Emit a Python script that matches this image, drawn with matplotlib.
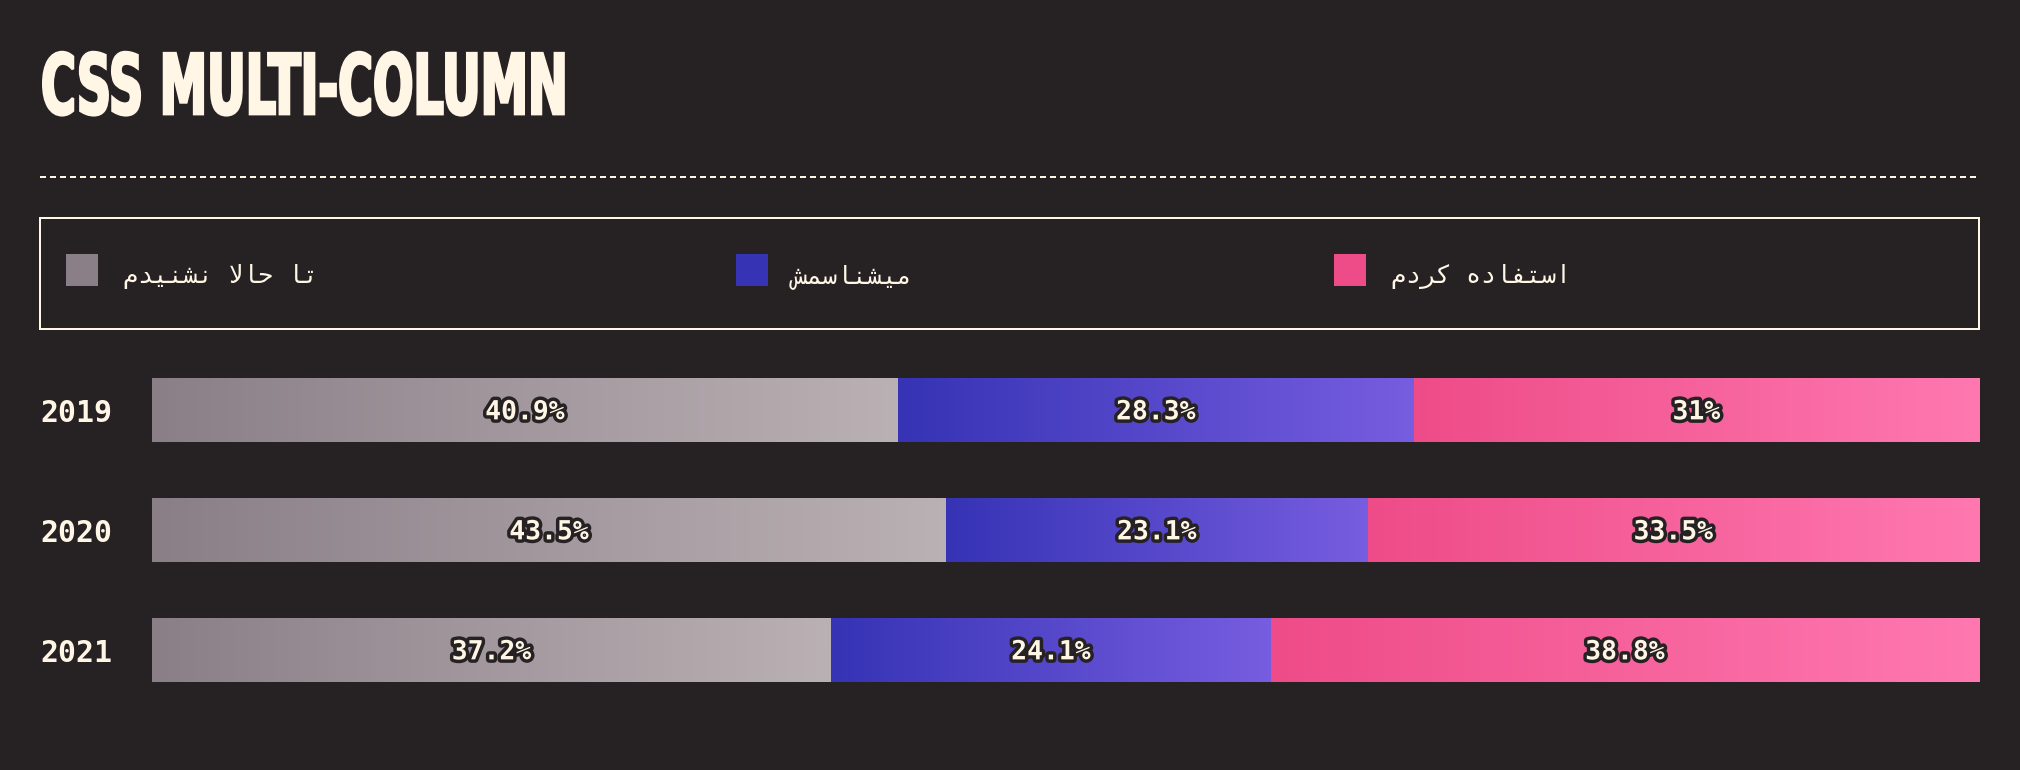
import numpy as np
import matplotlib
matplotlib.use("Agg")
import matplotlib.pyplot as plt
from matplotlib.patches import Rectangle
from matplotlib.colors import LinearSegmentedColormap
from matplotlib.transforms import Affine2D
from matplotlib import patheffects as pe

# ---------------- data ----------------
TITLE = "CSS MULTI-COLUMN"
years = ["2019", "2020", "2021"]
series_names = ["تا حالا نشنیدم", "میشناسمش", "استفاده کردم"]
never_heard = [40.9, 43.5, 37.2]
know_it = [28.3, 23.1, 24.1]
used_it = [31, 33.5, 38.8]

# ---------------- style ----------------
BG = "#262223"
CREAM = "#FFF6E6"
grad_start = ["#8A7F87", "#3633B5", "#EE4C88"]
grad_end = ["#BAB1B4", "#775DE0", "#FF78B0"]

W, H = 2020, 770
plt.rcParams["lines.scale_dashes"] = False
PX = 72.0 / 100.0  # points per pixel at dpi 100

# ---------- minimal Arabic/Persian shaping (presentation forms) ----------
FORMS = {
    "\u0627": ("\uFE8D", "\uFE8E", None, None),
    "\u062A": ("\uFE95", "\uFE96", "\uFE97", "\uFE98"),
    "\u062D": ("\uFEA1", "\uFEA2", "\uFEA3", "\uFEA4"),
    "\u0644": ("\uFEDD", "\uFEDE", "\uFEDF", "\uFEE0"),
    "\u0646": ("\uFEE5", "\uFEE6", "\uFEE7", "\uFEE8"),
    "\u0634": ("\uFEB5", "\uFEB6", "\uFEB7", "\uFEB8"),
    "\u06CC": ("\uFBFC", "\uFBFD", "\uFBFE", "\uFBFF"),
    "\u062F": ("\uFEA9", "\uFEAA", None, None),
    "\u0645": ("\uFEE1", "\uFEE2", "\uFEE3", "\uFEE4"),
    "\u0633": ("\uFEB1", "\uFEB2", "\uFEB3", "\uFEB4"),
    "\u0647": ("\uFEE9", "\uFEEA", "\uFEEB", "\uFEEC"),
    "\u0641": ("\uFED1", "\uFED2", "\uFED3", "\uFED4"),
    "\u06A9": ("\uFB8E", "\uFB8F", "\uFB90", "\uFB91"),
    "\u0631": ("\uFEAD", "\uFEAE", None, None),
    "LA": ("\uFEFB", "\uFEFC", None, None),
}


def shape_rtl(s):
    toks = []
    i = 0
    while i < len(s):
        if s[i] == "\u0644" and i + 1 < len(s) and s[i + 1] == "\u0627":
            toks.append("LA")
            i += 2
        else:
            toks.append(s[i])
            i += 1

    def jt(t):
        if t not in FORMS:
            return "none"
        return "dual" if FORMS[t][2] is not None else "right"

    out = []
    for k, t in enumerate(toks):
        if jt(t) == "none":
            out.append(t)
            continue
        prev_c = k > 0 and jt(toks[k - 1]) == "dual"
        next_c = jt(t) == "dual" and k + 1 < len(toks) and jt(toks[k + 1]) != "none"
        f = FORMS[t]
        if prev_c and next_c:
            out.append(f[3])
        elif prev_c:
            out.append(f[1])
        elif next_c:
            out.append(f[2])
        else:
            out.append(f[0])
    return "".join(reversed(out))


class HScale(pe.AbstractPathEffect):
    """Horizontally condense a text's glyphs about a display x anchor (and embolden slightly)."""

    def __init__(self, sx, x0, lw=0.0):
        super().__init__()
        self.sx = sx
        self.x0 = x0
        self.lw = lw

    def draw_path(self, renderer, gc, tpath, affine, rgbFace=None):
        t = affine + Affine2D().translate(-self.x0, 0).scale(self.sx, 1).translate(self.x0, 0)
        gc0 = renderer.new_gc()
        gc0.copy_properties(gc)
        if self.lw > 0 and rgbFace is not None:
            gc0.set_linewidth(self.lw)
            gc0.set_foreground(rgbFace)
            gc0.set_joinstyle("miter")
        renderer.draw_path(gc0, tpath, t, rgbFace)
        gc0.restore()


# ---------------- figure ----------------
fig = plt.figure(figsize=(W / 100, H / 100), dpi=100, facecolor=BG)
ax = fig.add_axes([0, 0, 1, 1])
ax.set_xlim(0, W)
ax.set_ylim(H, 0)
ax.axis("off")
ax.set_facecolor(BG)

# title
title = ax.text(41, 114, TITLE, fontsize=60, fontweight="bold", family="DejaVu Sans",
                color=CREAM, ha="left", va="baseline")

# dashed separator
ax.plot([40, 1979], [177, 177], color=CREAM, lw=2 * PX, dashes=(6 * PX, 4 * PX),
        solid_capstyle="butt", dash_capstyle="butt")

# legend box
ax.add_patch(Rectangle((40, 218), 1939, 111, fill=False, edgecolor=CREAM, lw=2 * PX))
swatch_x = [66, 736, 1334]
for k, name in enumerate(series_names):
    ax.add_patch(Rectangle((swatch_x[k], 254), 32, 32, facecolor=grad_start[k], edgecolor="none"))
    ax.text(swatch_x[k] + 57, 283, shape_rtl(name), fontsize=18,
            family=["DejaVu Sans Mono", "DejaVu Sans"], color=CREAM, ha="left", va="baseline")

# ---------------- bars ----------------
axb = fig.add_axes([152 / W, (H - 710) / H, (1979 - 152) / W, 360 / H])
axb.set_facecolor("none")
series = [never_heard, know_it, used_it]
totals = np.sum(np.array(series, dtype=float), axis=0)
ypos = np.arange(len(years))
bar_h = 64 / 120
lefts = np.zeros(len(years))
for k, vals in enumerate(series):
    vals = np.asarray(vals, dtype=float)
    widths = vals / totals * 100
    bars = axb.barh(ypos, widths, left=lefts, height=bar_h, color=grad_start[k], linewidth=0, zorder=1)
    cmap = LinearSegmentedColormap.from_list(f"g{k}", [grad_start[k], grad_end[k]])
    for b in bars:
        x0, y0 = b.get_x(), b.get_y()
        im = axb.imshow(np.linspace(0, 1, 256).reshape(1, -1), cmap=cmap, aspect="auto",
                        extent=(x0, x0 + b.get_width(), y0 + b.get_height(), y0),
                        interpolation="bilinear", zorder=2)
        im.set_clip_path(b)
    for i, (l, w, v) in enumerate(zip(lefts, widths, vals)):
        axb.text(l + w / 2, i + 0.078, f"{v:g}%", fontsize=19, fontweight="bold",
                 family="DejaVu Sans Mono", color=CREAM, ha="center", va="baseline", zorder=5,
                 path_effects=[pe.Stroke(linewidth=5, foreground=BG), pe.Normal()])
    lefts = lefts + widths

axb.set_xlim(0, 100)
axb.set_ylim(2.5, -0.5)
axb.set_xticks([])
axb.set_yticks(ypos, years)
axb.tick_params(axis="y", length=0, pad=112 * PX, labelsize=21.5, labelcolor=CREAM)
for lab in axb.get_yticklabels():
    lab.set_ha("left")
    lab.set_fontfamily("DejaVu Sans Mono")
    lab.set_fontweight("bold")
for s in axb.spines.values():
    s.set_visible(False)

# condense the title glyphs to the reference width
fig.canvas.draw()
bb = title.get_window_extent()
title.set_path_effects([HScale(527.0 / bb.width, bb.x0, lw=2.0)])

fig.savefig("out.png", dpi=100, facecolor=BG)
